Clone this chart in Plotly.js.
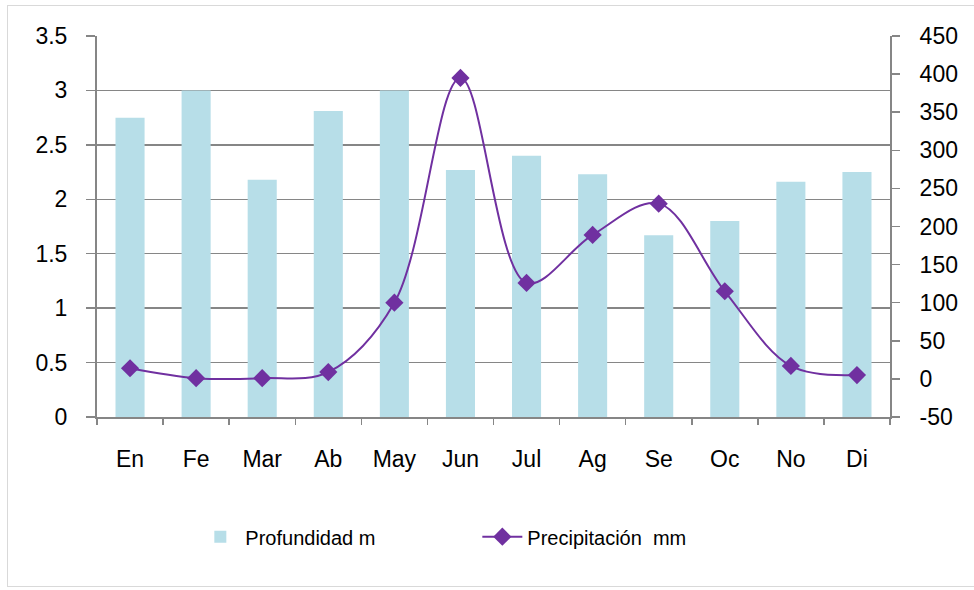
<!DOCTYPE html>
<html>
<head>
<meta charset="utf-8">
<script src="https://cdn.plot.ly/plotly-3.0.1.min.js"></script>
<style>
html,body{margin:0;padding:0;background:#fff;overflow:hidden;}
#frame{position:absolute;left:7px;top:5px;width:1000px;height:582px;border:1.5px solid #d9d9d9;box-sizing:border-box;}
#chart{position:absolute;left:0;top:0;width:974px;height:590px;}
</style>
</head>
<body>
<div id="frame"></div>
<div id="chart"></div>
<script>
const months = ["En","Fe","Mar","Ab","May","Jun","Jul","Ag","Se","Oc","No","Di"];
const profundidad = [2.75, 3.0, 2.18, 2.81, 3.0, 2.27, 2.40, 2.23, 1.67, 1.80, 2.16, 2.25];
const precipitacion = [14, 1, 1, 9, 100, 395, 126, 189, 230, 115, 17, 5];
const seriesNames = ["Profundidad m", "Precipitación  mm"];
const leftTicks = [0, 0.5, 1, 1.5, 2, 2.5, 3, 3.5];
const leftTickText = ["0", "0.5", "1", "1.5", "2", "2.5", "3", "3.5"];
const rightTicks = [-50, 0, 50, 100, 150, 200, 250, 300, 350, 400, 450];
const rightTickText = ["-50", "0", "50", "100", "150", "200", "250", "300", "350", "400", "450"];

const FONT = "'Liberation Sans', Arial, sans-serif";
const AXIS = "#868686";

const data = [
  {
    type: "bar",
    name: seriesNames[0],
    x: months,
    y: profundidad,
    marker: {color: "#B7DEE8"},
    width: 0.44,
    yaxis: "y"
  },
  {
    type: "scatter",
    mode: "lines+markers",
    name: seriesNames[1],
    x: months,
    y: precipitacion,
    line: {color: "#7030A0", width: 2, shape: "spline", smoothing: 1},
    marker: {symbol: "diamond", size: 14, color: "#7030A0"},
    yaxis: "y2"
  }
];

const layout = {
  width: 974,
  height: 590,
  paper_bgcolor: "rgba(0,0,0,0)",
  plot_bgcolor: "rgba(0,0,0,0)",
  margin: {l: 97, r: 84, t: 36, b: 173},
  font: {family: FONT, size: 23, color: "#000"},
  showlegend: true,
  legend: {
    orientation: "h",
    x: 0.124, xanchor: "left",
    y: -0.263, yanchor: "top",
    entrywidth: 227,
    entrywidthmode: "pixels",
    font: {family: FONT, size: 20, color: "#000"},
    itemwidth: 40,
    traceorder: "normal"
  },
  xaxis: {
    type: "category",
    automargin: false,
    range: [-0.5, months.length - 0.5],
    showline: true,
    linecolor: AXIS,
    linewidth: 2,
    ticks: "outside",
    tickson: "boundaries",
    ticklen: 6,
    tickcolor: AXIS,
    tickwidth: 1.5,
    showgrid: false,
    ticklabelstandoff: 20,
    tickfont: {family: FONT, size: 23}
  },
  yaxis: {
    automargin: false,
    range: [0, 3.5],
    tickmode: "array",
    tickvals: leftTicks,
    ticktext: leftTickText,
    showline: true,
    linecolor: AXIS,
    linewidth: 2,
    ticks: "outside",
    ticklen: 9,
    tickcolor: AXIS,
    tickwidth: 1.5,
    showgrid: true,
    gridcolor: AXIS,
    gridwidth: 1.5,
    zeroline: false,
    ticklabelstandoff: 14,
    tickfont: {family: FONT, size: 23}
  },
  yaxis2: {
    automargin: false,
    overlaying: "y",
    side: "right",
    range: [-50, 450],
    tickmode: "array",
    tickvals: rightTicks,
    ticktext: rightTickText,
    showline: true,
    linecolor: AXIS,
    linewidth: 2,
    ticks: "outside",
    ticklen: 8,
    tickcolor: AXIS,
    tickwidth: 1.5,
    showgrid: false,
    zeroline: false,
    ticklabelstandoff: 15,
    tickfont: {family: FONT, size: 23}
  }
};

Plotly.newPlot("chart", data, layout, {displayModeBar: false, staticPlot: true});
</script>
</body>
</html>
